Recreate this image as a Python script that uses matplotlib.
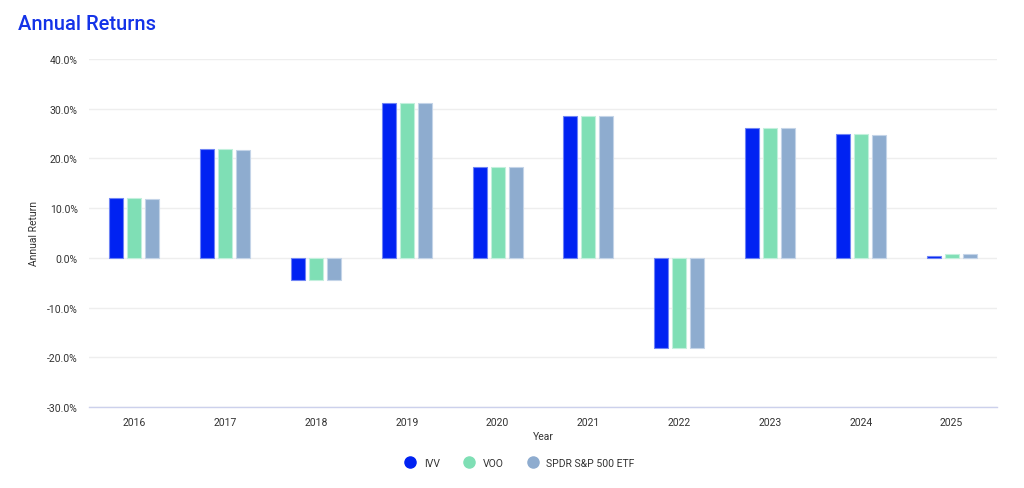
import numpy as np
import matplotlib
matplotlib.use('Agg')
import matplotlib.pyplot as plt
from matplotlib.ticker import FuncFormatter
from matplotlib.lines import Line2D

years = ['2016', '2017', '2018', '2019', '2020', '2021', '2022', '2023', '2024', '2025']
series_names = ['IVV', 'VOO', 'SPDR S&P 500 ETF']
ivv = [12.0, 21.8, -4.4, 31.1, 18.3, 28.6, -18.1, 26.2, 24.9, 0.4]
voo = [12.0, 21.8, -4.4, 31.2, 18.3, 28.6, -18.1, 26.2, 24.9, 0.8]
spy = [11.8, 21.6, -4.5, 31.1, 18.3, 28.6, -18.1, 26.2, 24.7, 0.8]
colors = ['#0022f2', '#7fdfb5', '#8eaccf']
edges = ['#6f84f5', '#c2f0dc', '#c4d4e8']

plt.rcParams['font.family'] = ['Roboto', 'DejaVu Sans']

fig = plt.figure(figsize=(10.24, 4.89), dpi=100)
ax = fig.add_axes([89 / 1024, 1 - 408 / 489, 908 / 1024, 348 / 489])

x = np.arange(len(years))
width = 0.154
step = 0.198
for i, vals in enumerate([ivv, voo, spy]):
    ax.bar(x + (i - 1) * step, vals, width, color=colors[i], edgecolor=edges[i],
           linewidth=0.8, zorder=3)

ax.set_xlim(-0.5, len(years) - 0.5)
ax.set_ylim(-30, 40)
ax.set_yticks(np.arange(-30, 41, 10))
ax.yaxis.set_major_formatter(FuncFormatter(lambda v, p: '%.1f%%' % v))
ax.set_xticks(x)
ax.set_xticklabels(years)
ax.tick_params(axis='both', length=0, labelsize=7.5, labelcolor='#333333', pad=8)
ax.tick_params(axis='x', pad=7)
ax.grid(axis='y', color='#eeeeee', linewidth=1, zorder=0)
for s in ['top', 'right', 'left']:
    ax.spines[s].set_visible(False)
ax.spines['bottom'].set_color('#ccd1ec')
ax.spines['bottom'].set_linewidth(1)

ax.set_ylabel('Annual Return', fontsize=7.5, color='#333333', labelpad=6)
ax.set_xlabel('Year', fontsize=7.5, color='#333333', labelpad=3)

fig.text(18 / 1024, 1 - 24 / 489, 'Annual Returns', fontsize=14.5, color='#1433e8',
         fontweight='medium', va='center', ha='left')

handles = [Line2D([0], [0], marker='o', linestyle='', markersize=8,
                  markerfacecolor=c, markeredgecolor=c) for c in colors]
fig.legend(handles, series_names, loc='center', bbox_to_anchor=(0.505, 1 - 464 / 489),
           ncol=3, frameon=False, fontsize=7.5, handletextpad=0.3, columnspacing=1.8,
           labelcolor='#333333')

fig.savefig('out.png', dpi=100, facecolor='white')
